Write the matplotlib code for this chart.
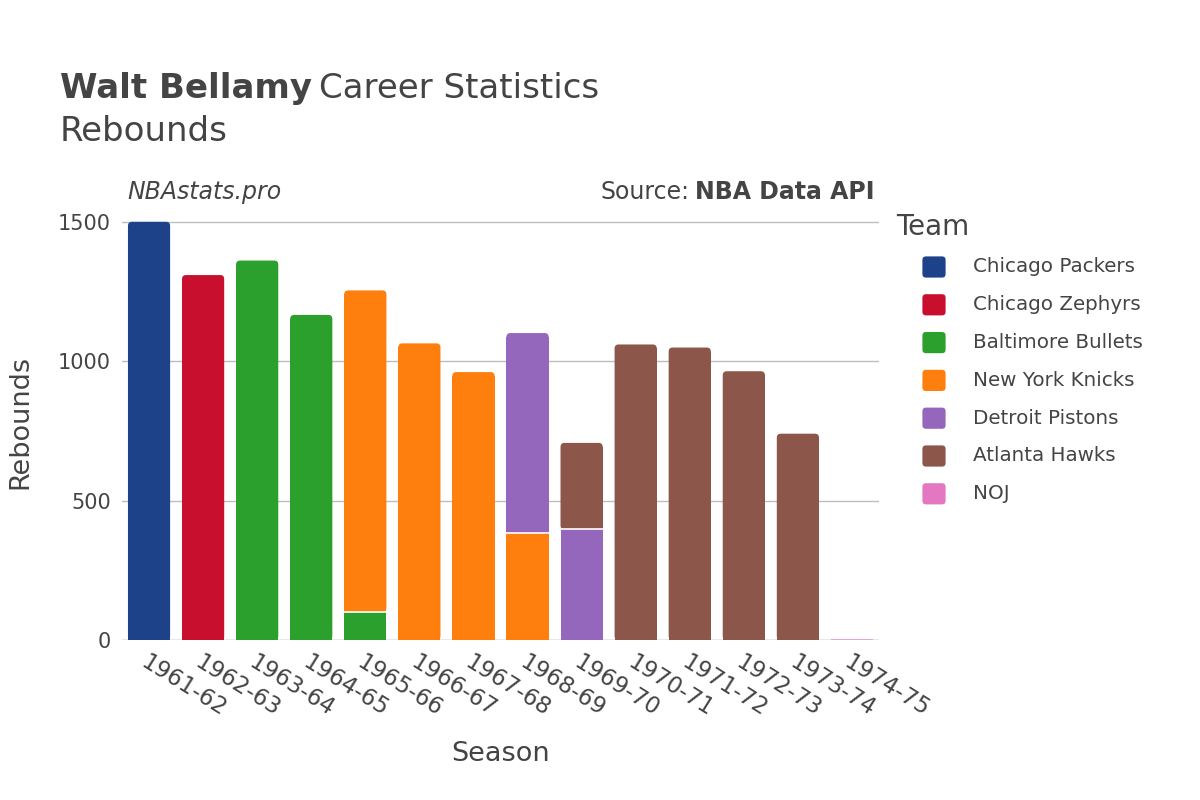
import matplotlib.pyplot as plt
import numpy as np
from matplotlib.patches import FancyBboxPatch, Rectangle

seasons = ["1961-62", "1962-63", "1963-64", "1964-65", "1965-66", "1966-67", "1967-68",
           "1968-69", "1969-70", "1970-71", "1971-72", "1972-73", "1973-74", "1974-75"]
teams = ["Chicago Packers", "Chicago Zephyrs", "Baltimore Bullets", "New York Knicks",
         "Detroit Pistons", "Atlanta Hawks", "NOJ"]
team_colors = ["#1d428a", "#c8102e", "#2ca02c", "#ff7f0e", "#9467bd", "#8c564b", "#e377c2"]

# rebounds per team per season (0 = did not play for that team)
packers = [1500, 0, 0, 0, 0, 0, 0, 0, 0, 0, 0, 0, 0, 0]
zephyrs = [0, 1309, 0, 0, 0, 0, 0, 0, 0, 0, 0, 0, 0, 0]
bullets = [0, 0, 1361, 1166, 102, 0, 0, 0, 0, 0, 0, 0, 0, 0]
knicks = [0, 0, 0, 0, 1152, 1064, 961, 385, 0, 0, 0, 0, 0, 0]
pistons = [0, 0, 0, 0, 0, 0, 0, 716, 397, 0, 0, 0, 0, 0]
hawks = [0, 0, 0, 0, 0, 0, 0, 0, 310, 1060, 1049, 964, 740, 0]
noj = [0, 0, 0, 0, 0, 0, 0, 0, 0, 0, 0, 0, 0, 5]

series = [packers, zephyrs, bullets, knicks, pistons, hawks, noj]

text_col = "#444444"
fig = plt.figure(figsize=(12, 8), dpi=100)
ax_w = 757 / 1200
ax = fig.add_axes([122 / 1200, 0.2, ax_w, 0.544])

ymax = 1561
ax.set_xlim(-0.5, len(seasons) - 0.5)
ax.set_ylim(0, ymax)

# rounding radius in data units (~4 px)
bw = 0.78
rx = 4 / (ax_w * 1200 / len(seasons))
ry = 4 / (0.544 * 800 / ymax)

bottoms = np.zeros(len(seasons))
tops = np.array([sum(s[i] for s in series) for i in range(len(seasons))])
for s, c in zip(series, team_colors):
    for i, v in enumerate(s):
        if v <= 0:
            continue
        b = bottoms[i]
        x0 = i - bw / 2
        if b + v >= tops[i] - 1e-9 and v > 3 * ry:
            # top segment: rounded top corners, square bottom
            p = FancyBboxPatch((x0 + rx, b + ry), bw - 2 * rx, v - 2 * ry,
                               boxstyle="round,pad=%f" % rx, mutation_aspect=ry / rx,
                               fc=c, ec="none", zorder=2)
            ax.add_patch(p)
            ax.add_patch(Rectangle((x0, b), bw, v - ry, fc=c, ec="none", zorder=2))
            if b > 0:
                ax.plot([x0, x0 + bw], [b, b], color="white", lw=1.2, zorder=3)
        elif v < 3 * ry:
            # tiny bar, barely visible
            ax.add_patch(Rectangle((x0, b), bw, v, fc=c, ec="none", zorder=2, alpha=0.6))
        else:
            ax.add_patch(Rectangle((x0, b), bw, v, fc=c, ec="none", zorder=2))
        bottoms[i] += v

ax.set_yticks([0, 500, 1000, 1500])
ax.yaxis.grid(True, color="#bdbdbd", lw=1)
ax.axhline(0, color="#e8e8e8", lw=2, zorder=1)
ax.set_axisbelow(True)
for sp in ax.spines.values():
    sp.set_visible(False)
ax.tick_params(length=0, labelcolor=text_col)
ax.tick_params(axis="y", pad=8, labelsize=15)
ax.set_xticks(range(len(seasons)))
ax.set_xticklabels(seasons, rotation=-32, ha="left", rotation_mode="anchor", fontsize=16.5)
ax.tick_params(axis="x", pad=8)

ax.set_xlabel("Season", fontsize=19.5, color=text_col, labelpad=14)
ax.set_ylabel("Rebounds", fontsize=19.5, color=text_col, labelpad=18)

t = fig.text(0.05, 0.889, "Walt Bellamy", fontsize=24.5, color=text_col, va="center",
             weight="bold")
fig.canvas.draw()
bb = t.get_window_extent()
fig.text(bb.x1 / 1200 + 0.006, 0.889, "Career Statistics", fontsize=24.5, color=text_col,
         va="center")
fig.text(0.05, 0.836, "Rebounds", fontsize=24.5, color=text_col, va="center")

fig.text(0.106, 0.76, "NBAstats.pro", fontsize=17, style="italic", color=text_col, va="center")
s1 = fig.text(0.729, 0.76, "NBA Data API", fontsize=17, weight="bold", color=text_col,
              va="center", ha="right")
fig.canvas.draw()
bb2 = s1.get_window_extent()
fig.text(bb2.x0 / 1200 - 0.005, 0.76, "Source:", fontsize=17, color=text_col,
         va="center", ha="right")

# legend
fig.text(0.747, 0.716, "Team", fontsize=20, color=text_col, va="center")
for k, (name, c) in enumerate(zip(teams, team_colors)):
    yc = 1 - (267 + k * 37.8) / 800
    fig.patches.append(FancyBboxPatch((926 / 1200, yc - 7 / 800), 16 / 1200, 14 / 800,
                                      boxstyle="round,pad=0.003", mutation_aspect=1.5,
                                      transform=fig.transFigure, fc=c, ec="none"))
    fig.text(973 / 1200, yc, name, fontsize=14.3, color=text_col, va="center")

plt.savefig("out.png", dpi=100)
